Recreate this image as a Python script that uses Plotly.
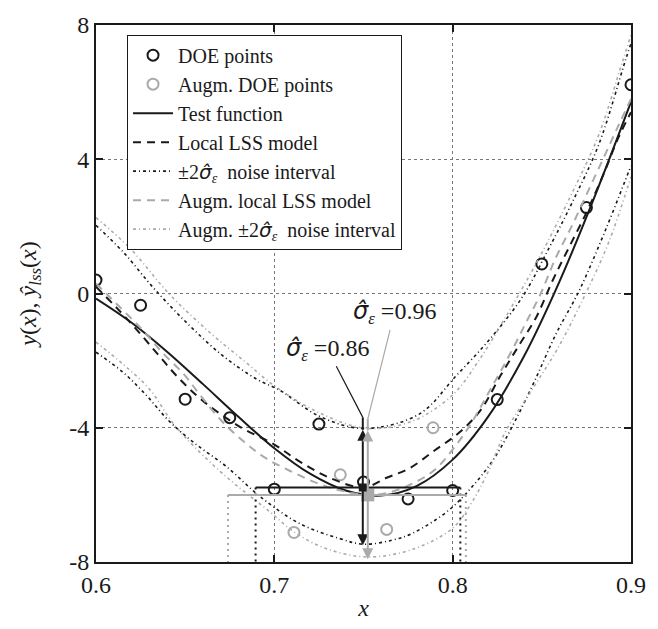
import plotly.graph_objects as go

# ---------------- data ----------------
doe_x = [0.600, 0.625, 0.650, 0.675, 0.700, 0.725, 0.750, 0.775, 0.800, 0.825, 0.850, 0.875, 0.900]
doe_y = [0.40, -0.35, -3.15, -3.70, -5.83, -3.89, -5.62, -6.12, -5.87, -3.16, 0.88, 2.56, 6.22]

aug_x = [0.711, 0.737, 0.763, 0.789]
aug_y = [-7.12, -5.40, -7.03, -4.00]

test_x = [0.60, 0.62, 0.64, 0.66, 0.68, 0.70, 0.72, 0.74, 0.76, 0.78, 0.80, 0.82, 0.84, 0.86, 0.88, 0.90]
test_y = [-0.15, -0.87, -1.74, -2.70, -3.68, -4.61, -5.37, -5.87, -6.02, -5.73, -4.95, -3.66, -1.87, 0.37, 2.94, 5.71]

lss_x = [0.600, 0.612, 0.624, 0.635, 0.646, 0.660, 0.680, 0.700, 0.714, 0.731, 0.750, 0.763, 0.776,
         0.790, 0.804, 0.816, 0.827, 0.837, 0.847, 0.856, 0.865, 0.875, 0.884, 0.893, 0.900]
lss_y = [0.20, -0.45, -1.15, -1.83, -2.50, -3.20, -3.95, -4.50, -5.00, -5.49, -5.78, -5.49, -5.20,
         -4.67, -4.13, -3.45, -2.43, -1.56, -0.69, 0.38, 1.35, 2.41, 3.48, 4.65, 5.40]

lss_up_x = [0.600, 0.615, 0.632, 0.651, 0.671, 0.690, 0.703, 0.725, 0.750, 0.781, 0.802, 0.821,
            0.839, 0.854, 0.867, 0.882, 0.897, 0.900]
lss_up_y = [2.03, 1.25, 0.18, -0.88, -1.85, -2.55, -2.88, -3.65, -4.02, -3.60, -2.45, -1.35,
            -0.11, 1.35, 2.71, 4.45, 6.97, 7.45]

lss_lo_x = [0.600, 0.615, 0.628, 0.641, 0.655, 0.673, 0.692, 0.714, 0.7365, 0.750, 0.766, 0.7776,
            0.798, 0.813, 0.824, 0.835, 0.846, 0.858, 0.871, 0.886, 0.899, 0.900]
lss_lo_y = [-1.75, -2.34, -3.02, -3.80, -4.45, -5.15, -6.05, -6.85, -7.30, -7.47, -7.35, -7.14,
            -6.45, -5.63, -4.85, -3.80, -2.60, -1.20, 0.09, 1.93, 3.67, 3.80]

aug_lss_x = [0.600, 0.614, 0.626, 0.637, 0.649, 0.658, 0.670, 0.683, 0.695, 0.709, 0.724, 0.738,
             0.7524, 0.765, 0.778, 0.790, 0.800, 0.810, 0.8205, 0.8317, 0.841, 0.8494, 0.8578,
             0.867, 0.8755, 0.8848, 0.8932, 0.900]
aug_lss_y = [0.30, -0.44, -1.08, -1.75, -2.39, -3.00, -3.77, -4.42, -4.90, -5.29, -5.65, -5.88,
             -6.00, -5.92, -5.65, -5.25, -4.65, -3.90, -2.92, -1.85, -0.88, 0.00, 1.06,
             2.03, 3.00, 4.06, 5.03, 5.80]

aug_up_x = [0.600, 0.619, 0.641, 0.664, 0.684, 0.700, 0.725, 0.752, 0.778, 0.800, 0.814, 0.8298,
            0.8485, 0.867, 0.882, 0.895, 0.900]
aug_up_y = [2.26, 1.35, -0.01, -1.17, -2.05, -2.75, -3.55, -4.02, -3.79, -3.02, -2.05, -0.69,
            1.06, 3.00, 4.74, 6.87, 7.70]

aug_lo_x = [0.600, 0.615, 0.630, 0.643, 0.655, 0.675, 0.6974, 0.711, 0.729, 0.7524, 0.7776,
            0.800, 0.811, 0.820, 0.8298, 0.8447, 0.8597, 0.8746, 0.8876, 0.900]
aug_lo_y = [-1.45, -2.10, -2.85, -3.85, -4.56, -5.55, -6.50, -7.10, -7.60, -7.85, -7.62,
            -6.99, -6.20, -5.30, -4.10, -2.85, -1.56, 0.00, 1.54, 3.48]

# sigma annotation data
center_x = [0.7496, 0.7524]
center_y = [-5.78, -6.00]
sigma = [0.86, 0.96]
region_lo = [0.6895, 0.674]
region_hi = [0.8043, 0.8074]
junction_y = [-3.69, -3.74]
label_x = [0.7298, 0.7673]
label_y = [-1.66, -0.58]

x_ticks = [0.6, 0.7, 0.8, 0.9]
x_tick_text = ["0.6", "0.7", "0.8", "0.9"]
y_ticks = [-8, -4, 0, 4, 8]
y_tick_text = ["-8", "-4", "0", "4", "8"]

BLACK = "#1a1a1a"
GRAY = "#aaaaaa"
FONT = "Liberation Serif, DejaVu Serif, serif"
band_dash = "3px,3px,1px,3px"
model_dash = "8px,6px"
SIG = "<span style='font-family:DejaVu Sans'><i>σ̂</i></span><sub><i>ε</i></sub>"

fig = go.Figure()

fig.add_trace(go.Scatter(x=doe_x, y=doe_y, mode="markers", name="DOE points",
                         marker=dict(symbol="circle-open", size=11, color=BLACK, line=dict(width=2, color=BLACK))))
fig.add_trace(go.Scatter(x=aug_x, y=aug_y, mode="markers", name="Augm. DOE points",
                         marker=dict(symbol="circle-open", size=11, color=GRAY, line=dict(width=2, color=GRAY))))
fig.add_trace(go.Scatter(x=test_x, y=test_y, mode="lines", name="Test function",
                         line=dict(color=BLACK, width=2, shape="spline")))
fig.add_trace(go.Scatter(x=lss_x, y=lss_y, mode="lines", name="Local LSS model",
                         line=dict(color=BLACK, width=2, dash=model_dash, shape="spline")))
fig.add_trace(go.Scatter(x=lss_up_x, y=lss_up_y, mode="lines",
                         name="±2" + SIG + "  noise interval", legendgroup="band",
                         line=dict(color=BLACK, width=1.6, dash=band_dash, shape="spline")))
fig.add_trace(go.Scatter(x=lss_lo_x, y=lss_lo_y, mode="lines", showlegend=False, legendgroup="band",
                         line=dict(color=BLACK, width=1.6, dash=band_dash, shape="spline")))
fig.add_trace(go.Scatter(x=aug_lss_x, y=aug_lss_y, mode="lines", name="Augm. local LSS model",
                         line=dict(color=GRAY, width=2, dash=model_dash, shape="spline")))
fig.add_trace(go.Scatter(x=aug_up_x, y=aug_up_y, mode="lines",
                         name="Augm. ±2" + SIG + "  noise interval", legendgroup="aband",
                         line=dict(color=GRAY, width=1.6, dash=band_dash, shape="spline")))
fig.add_trace(go.Scatter(x=aug_lo_x, y=aug_lo_y, mode="lines", showlegend=False, legendgroup="aband",
                         line=dict(color=GRAY, width=1.6, dash=band_dash, shape="spline")))

shapes = []
annotations = []
colors = [BLACK, GRAY]
for i in range(2):
    c = colors[i]
    cx, cy, s = center_x[i], center_y[i], sigma[i]
    shapes.append(dict(type="line", xref="x", yref="y", x0=region_lo[i], x1=region_hi[i], y0=cy, y1=cy,
                       line=dict(color=c, width=2)))
    for xv in (region_lo[i], region_hi[i]):
        shapes.append(dict(type="line", xref="x", yref="y", x0=xv, x1=xv, y0=cy, y1=-8,
                           line=dict(color=c, width=2, dash="2px,4px")))
    shapes.append(dict(type="line", xref="x", yref="y", x0=cx, x1=cx, y0=cy + 2 * s, y1=junction_y[i],
                       line=dict(color=c, width=2)))
    for sign in (1, -1):
        annotations.append(dict(x=cx, y=cy + sign * 2 * s, ax=cx, ay=cy, xref="x", yref="y",
                                axref="x", ayref="y", showarrow=True, arrowhead=2, arrowsize=1.1,
                                arrowwidth=2, arrowcolor=c, text=""))
    annotations.append(dict(x=cx, y=junction_y[i], ax=label_x[i], ay=label_y[i], xref="x", yref="y",
                            axref="x", ayref="y", showarrow=True, arrowhead=0, arrowwidth=1.2,
                            arrowcolor=c, standoff=0,
                            text=SIG + " =%.2f" % s,
                            font=dict(family=FONT, size=24, color=BLACK)))

fig.add_trace(go.Scatter(x=[center_x[1]], y=[center_y[1]], mode="markers", showlegend=False,
                         marker=dict(symbol="square", size=13, color=GRAY)))
fig.add_trace(go.Scatter(x=[center_x[0]], y=[center_y[0]], mode="markers", showlegend=False,
                         marker=dict(symbol="square", size=8, color=BLACK)))

fig.update_layout(
    width=658, height=629,
    margin=dict(l=96, r=26, t=18, b=61),
    paper_bgcolor="white", plot_bgcolor="white",
    font=dict(family=FONT, size=22, color=BLACK),
    shapes=shapes, annotations=annotations,
    showlegend=True,
    legend=dict(x=0.058, y=0.982, xanchor="left", yanchor="top", bgcolor="white",
                bordercolor=BLACK, borderwidth=1, itemwidth=40,
                font=dict(family=FONT, size=20, color=BLACK), tracegroupgap=0),
)
fig.update_xaxes(range=[0.6, 0.9], tickvals=x_ticks, ticktext=x_tick_text,
                 showline=True, linecolor=BLACK, linewidth=2, mirror="ticks",
                 ticks="inside", ticklen=7, tickwidth=2, tickcolor=BLACK,
                 showgrid=True, gridcolor="#777777", griddash="dot", gridwidth=1,
                 zeroline=False, tickfont=dict(size=24),
                 title=dict(text="<i>x</i>", font=dict(size=24), standoff=2))
fig.update_yaxes(range=[-8, 8], tickvals=y_ticks, ticktext=y_tick_text,
                 showline=True, linecolor=BLACK, linewidth=2, mirror="ticks",
                 ticks="inside", ticklen=7, tickwidth=2, tickcolor=BLACK,
                 showgrid=True, gridcolor="#777777", griddash="dot", gridwidth=1,
                 zeroline=False, tickfont=dict(size=24),
                 title=dict(text="<i>y</i>(<i>x</i>), <i>ŷ</i><sub><i>lss</i></sub>(<i>x</i>)",
                            font=dict(size=24), standoff=26))

fig.write_html("out.html")
